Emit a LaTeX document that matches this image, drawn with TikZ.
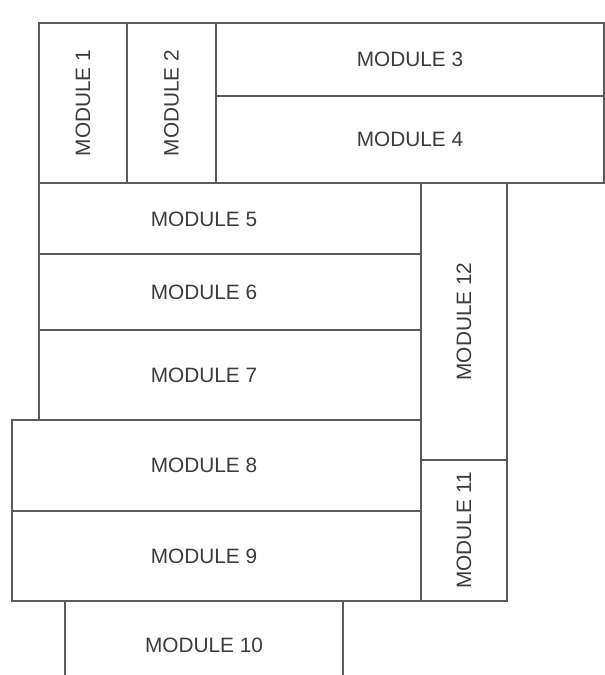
\documentclass[tikz,border=0pt]{standalone}
\usepackage{fontspec}
\setmainfont{Liberation Sans}
\definecolor{linec}{HTML}{5A5A5A}
\definecolor{textc}{HTML}{3C3C3C}
\begin{document}
\begin{tikzpicture}[x=1pt,y=-1pt,
  box/.style={draw=linec,line width=1.3pt,fill=white},
  lbl/.style={text=textc,font=\fontsize{20.8}{24}\selectfont,inner sep=0pt},
  vlbl/.style={lbl,rotate=90}]
\useasboundingbox (0,0) rectangle (605,675);
\clip (0,0) rectangle (605,675);
% top row
\draw[box] (39,23) rectangle (127,183) node[pos=.5,vlbl] (m1) {MODULE 1};
\draw[box] (127,23) rectangle (216,183) node[pos=.5,vlbl] (m2) {MODULE 2};
\draw[box] (216,23) rectangle (604,96) node[pos=.5,lbl] (m3) {MODULE 3};
\draw[box] (216,96) rectangle (604,183) node[pos=.5,lbl] (m4) {MODULE 4};
% middle
\draw[box] (39,183) rectangle (421,254);
\draw[box] (39,254) rectangle (421,330);
\draw[box] (39,330) rectangle (421,420);
\draw[box] (421,183) rectangle (507,460) node[pos=.5,vlbl] (m12) {MODULE 12};
\draw[box] (421,460) rectangle (507,601) node[pos=.5,vlbl] (m11) {MODULE 11};
% lower
\draw[box] (12,420) rectangle (421,511);
\draw[box] (12,511) rectangle (421,601);
\draw[box] (65,601) rectangle (343,689);
% labels
\node[lbl] (m5) at (204,219) {MODULE 5};
\node[lbl] (m6) at (204,292) {MODULE 6};
\node[lbl] (m7) at (204,375.5) {MODULE 7};
\node[lbl] (m8) at (204,465.5) {MODULE 8};
\node[lbl] (m9) at (204,556) {MODULE 9};
\node[lbl] (m10) at (204,645) {MODULE 10};
\end{tikzpicture}
\end{document}
